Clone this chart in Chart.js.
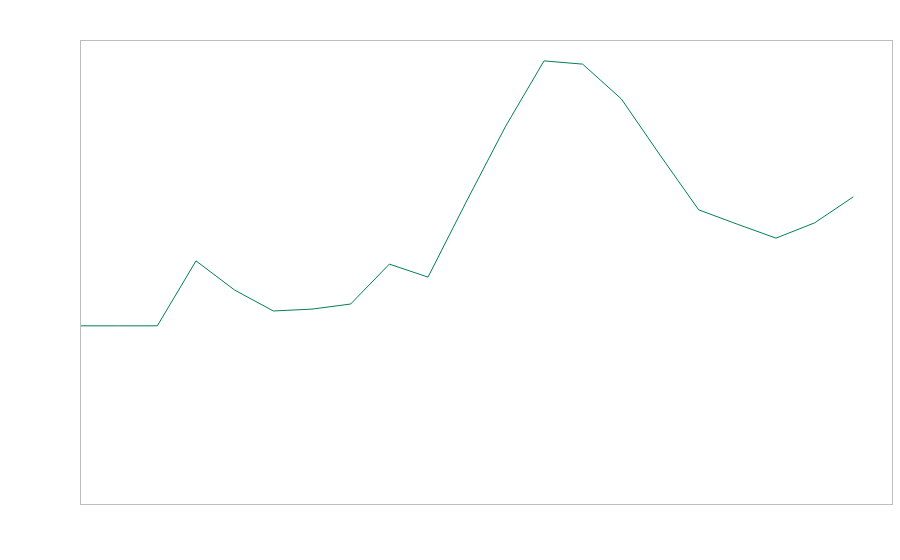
<!DOCTYPE html>
<html>
<head>
<meta charset="utf-8">
<script src="https://cdn.jsdelivr.net/npm/chart.js@4/dist/chart.umd.min.js"></script>
<style>
  html, body { margin: 0; padding: 0; background: #fff; }
  #wrap { width: 900px; height: 560px; position: relative; }
</style>
</head>
<body>
<div id="wrap"><canvas id="chart"></canvas></div>
<script>
// categories along the x axis (no tick labels shown in the picture)
const periods = ["1", "2", "3", "4", "5", "6", "7", "8", "9", "10", "11",
  "12", "13", "14", "15", "16", "17", "18", "19", "20", "21", "22"];

// series values on a 0-100 scale
const values = [38.4, 38.4, 38.4, 52.4, 46.1, 41.6, 42.0, 43.1, 51.7, 48.9,
  65.3, 81.3, 95.5, 94.8, 87.3, 75.2, 63.4, 60.3, 57.3, 60.6, 66.2, null];

const yMin = 0;
const yMax = 100;

// box around the plot area
const frame = {
  id: "frame",
  afterDraw(chart) {
    const { ctx, chartArea: a } = chart;
    ctx.save();
    ctx.strokeStyle = "#bdbdbd";
    ctx.lineWidth = 1;
    ctx.strokeRect(Math.round(a.left) + 0.5, Math.round(a.top) + 0.5,
      Math.round(a.right - a.left), Math.round(a.bottom - a.top));
    ctx.restore();
  }
};

new Chart(document.getElementById("chart"), {
  type: "line",
  data: {
    labels: periods,
    datasets: [{
      data: values,
      borderColor: "#008052",
      borderWidth: 1,
      pointRadius: 0,
      tension: 0,
      fill: false
    }]
  },
  options: {
    responsive: true,
    maintainAspectRatio: false,
    animation: false,
    layout: { padding: { left: 80, top: 40, right: 8, bottom: 56 } },
    plugins: {
      legend: { display: false },
      tooltip: { enabled: false }
    },
    scales: {
      x: { display: false, offset: false },
      y: { display: false, min: yMin, max: yMax }
    }
  },
  plugins: [frame]
});
</script>
</body>
</html>
